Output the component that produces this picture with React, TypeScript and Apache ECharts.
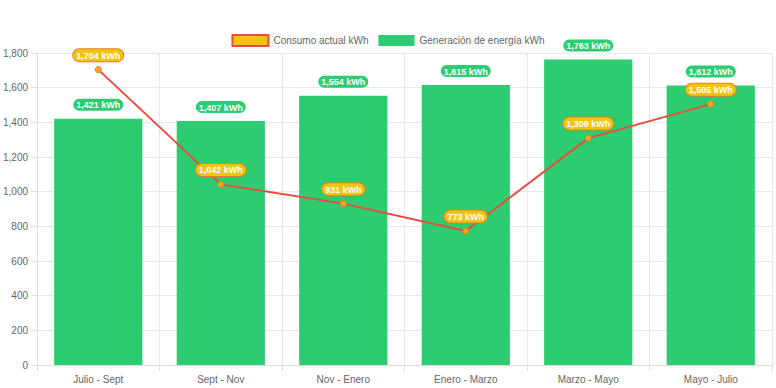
import React, { useEffect, useRef } from "react";
import * as echarts from "echarts";

const categories = ["Julio - Sept", "Sept - Nov", "Nov - Enero", "Enero - Marzo", "Marzo - Mayo", "Mayo - Julio"];
const consumo = [1704, 1042, 931, 773, 1309, 1505];
const generacion = [1421, 1407, 1554, 1615, 1763, 1612];
const yTicks = { min: 0, max: 1800, interval: 200 };

const fmt = (v: number) => v.toLocaleString("en-US") + " kWh";
const FONT = "Liberation Sans, Arial, Helvetica, sans-serif";

export default function App() {
  const ref = useRef<HTMLDivElement>(null);
  useEffect(() => {
    if (!ref.current) return;
    const chart = echarts.init(ref.current, undefined, { renderer: "svg" });
    chart.setOption({
      animation: false,
      textStyle: { fontFamily: FONT },
      legend: {
        top: 29,
        left: "center",
        itemWidth: 36,
        itemHeight: 11,
        itemGap: 10,
        textStyle: { color: "#666", fontSize: 10, fontFamily: FONT },
        data: [
          {
            name: "Consumo actual kWh",
            icon: "rect",
            itemStyle: { color: "#f1c40f", borderColor: "#e74c3c", borderWidth: 2 },
          },
          { name: "Generación de energía kWh", icon: "rect", itemStyle: { color: "#2ecc71" } },
        ],
      },
      grid: { left: 35, right: 4, top: 53, bottom: 23, containLabel: false },
      xAxis: {
        type: "category",
        data: categories,
        boundaryGap: true,
        axisLine: { lineStyle: { color: "#ddd" } },
        axisTick: { show: true, length: 6, lineStyle: { color: "#ddd" } },
        axisLabel: { color: "#666", fontSize: 10, margin: 9, fontFamily: FONT },
        splitLine: { show: true, lineStyle: { color: "#e8e8e8" } },
      },
      yAxis: {
        type: "value",
        min: yTicks.min,
        max: yTicks.max,
        interval: yTicks.interval,
        axisLine: { show: true, lineStyle: { color: "#ddd" } },
        axisTick: { show: true, length: 6, lineStyle: { color: "#ddd" } },
        axisLabel: {
          color: "#666",
          fontSize: 10,
          margin: 9,
          fontFamily: FONT,
          formatter: (v: number) => v.toLocaleString("en-US"),
        },
        splitLine: { show: true, lineStyle: { color: "#e8e8e8" } },
      },
      series: [
        {
          name: "Generación de energía kWh",
          type: "bar",
          data: generacion,
          barCategoryGap: "28%",
          itemStyle: { color: "#2ecc71" },
          z: 2,
          label: {
            show: true,
            position: "top",
            distance: 8,
            formatter: (p: any) => fmt(p.value),
            color: "#fff",
            fontWeight: "bold",
            fontSize: 9,
            fontFamily: FONT,
            backgroundColor: "#2ecc71",
            borderRadius: 6,
            padding: [2, 3, 1, 3],
          },
        },
        {
          name: "Consumo actual kWh",
          type: "line",
          data: consumo,
          z: 3,
          symbol: "circle",
          symbolSize: 6,
          lineStyle: { color: "#e74c3c", width: 2 },
          itemStyle: { color: "#f5a623", borderColor: "#e67e22", borderWidth: 1 },
          label: {
            show: true,
            position: "top",
            distance: 5,
            formatter: (p: any) => fmt(p.value),
            color: "#fff",
            fontWeight: "bold",
            fontSize: 9,
            fontFamily: FONT,
            backgroundColor: "#f1c40f",
            borderColor: "#e67e22",
            borderWidth: 1,
            borderRadius: 6,
            padding: [2, 3, 1, 3],
          },
        },
      ],
    });
    return () => chart.dispose();
  }, []);
  return (
    <div
      ref={ref}
      style={{ position: "fixed", left: 0, top: 0, width: 776, height: 388, background: "#fff" }}
    />
  );
}
